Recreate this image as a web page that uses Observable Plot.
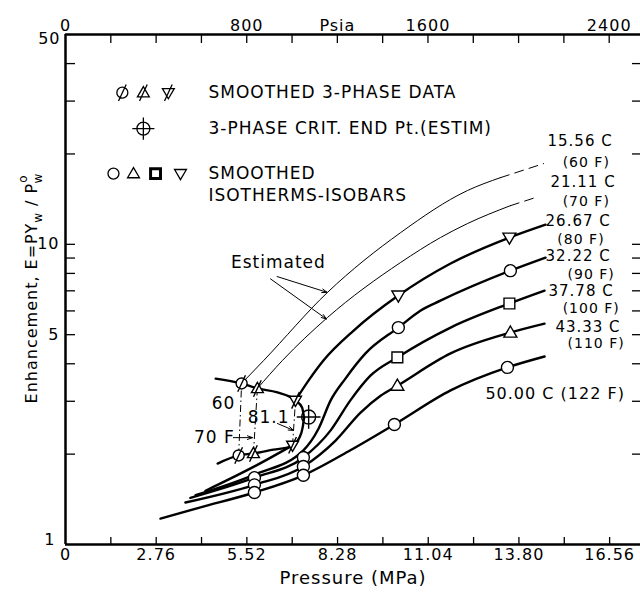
<!DOCTYPE html>
<html><head><meta charset="utf-8">
<script src="https://cdn.jsdelivr.net/npm/d3@7"></script>
<script src="https://cdn.jsdelivr.net/npm/@observablehq/plot@0.6"></script>
<style>body{margin:0;background:#fff;} svg{display:block;}</style>
</head><body><div id="chart"></div>
<script>
// ---------- axis data ----------
const PSI_TO_MPA = 0.00689476;
const xTickValues = [0, 2.76, 5.52, 8.28, 11.04, 13.80, 16.56];
const xTickText = ["0", "2.76", "5.52", "8.28", "11.04", "13.80", "16.56"];
const xMinorTicks = [1.38, 2.76, 4.14, 5.52, 6.90, 8.28, 9.66, 11.04, 12.42, 13.80, 15.18, 16.56];
const psiaTickLabels = [0, 800, 1600, 2400];
const psiaTicks = [200, 400, 600, 800, 1000, 1200, 1400, 1600, 1800, 2000, 2200, 2400];
const yTicks = [2, 3, 4, 5, 6, 7, 8, 9, 10, 20, 30, 40];
const yTickLabelsMid = [5, 10];

// ---------- isotherms [MPa, E] ----------
const iso60 = [[5.36,3.44],[6.03,4.10],[7.97,6.91],[10.20,10.94],[12.23,15.10],[13.24,16.68]];
const iso60Est = [[13.24,16.68],[14.55,18.57]];
const iso70 = [[5.84,3.31],[6.60,4.10],[7.97,5.70],[10.20,8.70],[11.41,10.53],[12.23,11.72],[13.54,13.45]];
const iso70Est = [[13.54,13.45],[14.30,14.31]];
const iso80 = [[7.00,3.02],[7.40,3.52],[7.85,4.10],[8.77,5.16],[10.13,6.75],[11.72,8.63],[13.51,10.53],[14.61,11.63]];
const iso80Gas = [[4.26,1.51],[5.75,1.82],[6.91,2.14]];
const iso90 = [[3.96,1.46],[5.75,1.71],[7.24,2.06],[7.70,2.43],[8.07,3.02],[8.52,3.57],[9.13,4.33],[10.13,5.28],[10.80,6.01],[11.41,6.49],[13.54,8.17],[14.61,9.03]];
const iso100 = [[3.80,1.43],[5.75,1.67],[7.24,1.95],[8.07,2.40],[8.67,3.02],[9.28,3.65],[10.10,4.20],[11.72,5.28],[13.51,6.35],[14.58,7.01]];
const iso110 = [[3.65,1.38],[5.75,1.58],[7.24,1.82],[8.22,2.22],[8.98,2.75],[9.59,3.13],[10.10,3.38],[11.72,4.33],[13.54,5.08],[14.58,5.44]];
const iso122 = [[2.89,1.22],[4.11,1.33],[5.75,1.49],[7.24,1.70],[8.67,2.06],[10.01,2.51],[11.72,3.26],[13.45,3.89],[14.58,4.23]];

// ---------- three-phase loci ----------
const threePhaseUpper = [[4.57,3.57],[5.36,3.44],[5.84,3.31],[6.45,3.21],[7.00,3.02],[7.20,2.86],[7.26,2.64]];
const threePhaseLower = [[4.63,1.86],[5.27,1.98],[5.72,2.01],[6.33,2.07],[6.85,2.12],[7.12,2.27],[7.22,2.46],[7.26,2.64]];

// ---------- markers ----------
const ptsCircle = [[5.75,1.67],[5.75,1.58],[5.75,1.49],[7.24,1.95],[7.24,1.82],[7.24,1.70],[10.13,5.28],[10.01,2.51],[13.54,8.17],[13.45,3.89]];
const ptsTriUp = [[10.10,3.38],[13.54,5.08]];
const ptsSquare = [[10.10,4.20],[13.51,6.35]];
const ptsTriDown = [[10.13,6.75],[13.51,10.53]];
const pts3Circle = [[5.36,3.44],[5.27,1.98]];
const pts3TriUp = [[5.84,3.31],[5.72,2.01]];
const pts3TriDown = [[7.00,3.02],[6.91,2.14]];
const ptsCrit = [[7.40,2.66]];

// ---------- labels ----------
const labelC = ["15.56 C", "21.11 C", "26.67 C", "32.22 C", "37.78 C", "43.33 C"];
const labelF = ["(60 F)", "(70 F)", "(80 F)", "(90 F)", "(100 F)", "(110 F)"];
const label122 = "50.00 C (122 F)";
const legendText = ["SMOOTHED 3-PHASE DATA", "3-PHASE CRIT. END Pt.(ESTIM)", "SMOOTHED", "ISOTHERMS-ISOBARS"];

// ---------- annotation layout (data units) ----------
const labelCPos = [[14.67,22.0],[14.76,16.05],[14.61,11.9],[14.61,9.10],[14.70,6.97],[14.91,5.28]];
const labelFPos = [[15.13,18.75],[15.13,13.9],[14.97,10.38],[15.28,7.93],[15.13,6.12],[15.28,4.68]];
const label122Pos = [12.78,3.18];
const legendTextPos = [[4.35,32.0],[4.35,24.28],[4.35,17.20],[4.35,14.53]];

// ---------- symbols ----------
const mk = fn => ({draw(c, size) { const r = Math.sqrt(size / Math.PI); fn(c, r); }});
const circ = (c, r) => { c.moveTo(r, 0); c.arc(0, 0, r, 0, 2 * Math.PI); };
const triU = (c, r) => { c.moveTo(0, -r * 1.1); c.lineTo(r * 1.08, r * 0.75); c.lineTo(-r * 1.08, r * 0.75); c.closePath(); };
const triD = (c, r) => { c.moveTo(0, r * 1.1); c.lineTo(r * 1.08, -r * 0.75); c.lineTo(-r * 1.08, -r * 0.75); c.closePath(); };
const sq = (c, r) => { const s = r * 0.9; c.rect(-s, -s, 2 * s, 2 * s); };
const slash = (c, r) => { c.moveTo(-r * 0.7, r * 1.5); c.lineTo(r * 0.7, -r * 1.5); };
const symCircle = mk(circ);
const symTriUp = mk(triU);
const symTriDown = mk(triD);
const symSquare = mk(sq);
const symCircleSlash = mk((c, r) => { circ(c, r); slash(c, r); });
const symTriUpSlash = mk((c, r) => { triU(c, r); slash(c, r); });
const symTriDownSlash = mk((c, r) => { triD(c, r); slash(c, r); });
const symCrit = mk((c, r) => { circ(c, r); c.moveTo(-r * 1.7, 0); c.lineTo(r * 1.7, 0); c.moveTo(0, -r * 1.7); c.lineTo(0, r * 1.7); });

// legend symbol positions (data units)
const legRow1 = [{x:1.73,y:32.0,s:symCircleSlash},{x:2.37,y:32.0,s:symTriUpSlash},{x:3.13,y:32.0,s:symTriDownSlash}];
const legRow2 = [{x:2.37,y:24.28,s:symCrit}];
const legRow3 = [{x:1.46,y:17.2,s:symCircle},{x:2.07,y:17.2,s:symTriUp},{x:3.50,y:17.2,s:symTriDown}];
const legSquare = [{x:2.74,y:17.2}];

const tieLines = [[pts3Circle[1], pts3Circle[0]], [pts3TriUp[1], pts3TriUp[0]], [pts3TriDown[1], pts3TriDown[0]]];
const annotArrows = [
  {x1:6.44, y1:7.81, x2:7.96, y2:6.92},
  {x1:6.24, y1:7.67, x2:7.94, y2:5.64},
  {x1:5.11, y1:2.27, x2:5.69, y2:2.27},
  {x1:6.45, y1:2.53, x2:6.94, y2:2.40}
];
const annotText = [
  {x:6.48, y:8.69, t:"Estimated"},
  {x:4.81, y:2.95, t:"60"},
  {x:4.53, y:2.27, t:"70 F"},
  {x:6.18, y:2.65, t:"81.1"}
];

// ---------- chart ----------
const W = 640, H = 593, mt = 34, mb = 49, ml = 65, mr = 0;
const innerW = W - ml - mr, innerH = H - mt - mb;
const THICK = 2.4, THIN = 1;
const px = d => d[0], py = d => d[1];

const line = (data, o = {}) => Plot.line(data, {x: px, y: py, curve: "monotone-x", stroke: "black", strokeWidth: THICK, ...o});
const dots = (data, sym, o = {}) => Plot.dot(data, {x: px, y: py, r: 6, symbol: sym, fill: "white", stroke: "black", strokeWidth: 1.4, ...o});

const chart = Plot.plot({
  width: W, height: H,
  marginTop: mt, marginBottom: mb, marginLeft: ml, marginRight: mr,
  x: {domain: [0, 17.5], axis: null},
  y: {type: "log", domain: [1, 50], axis: null},
  style: {fontFamily: "DejaVu Sans", fontSize: "16px", background: "white", color: "black", letterSpacing: "1px"},
  marks: [
    // ticks (inward)
    Plot.ruleX(xMinorTicks, {x: d => d, insetTop: innerH - 7, strokeWidth: 1.3}),
    Plot.ruleX(psiaTicks, {x: d => d * PSI_TO_MPA, insetBottom: innerH - 9, strokeWidth: 1.3}),
    Plot.ruleY(yTicks, {y: d => d, insetRight: innerW - 10, strokeWidth: 1.3}),
    Plot.ruleY(yTicks, {y: d => d, insetLeft: innerW - 8, strokeWidth: 1.3}),
    // tick labels
    Plot.text(xTickValues, {x: d => d, text: (d, i) => xTickText[i], frameAnchor: "bottom", dy: 15, fontSize: 16}),
    Plot.text(psiaTickLabels, {x: d => d * PSI_TO_MPA, text: d => String(d), frameAnchor: "top", dy: -15, fontSize: 16}),
    Plot.text(["Psia"], {x: () => 1200 * PSI_TO_MPA, text: d => d, frameAnchor: "top", dy: -15, fontSize: 16}),
    Plot.text(["Pressure (MPa)"], {text: d => d, frameAnchor: "bottom", dy: 39, fontSize: 18}),
    Plot.text([50], {y: d => d, text: d => String(d), frameAnchor: "left", dx: -5, dy: 4, textAnchor: "end", fontSize: 16}),
    Plot.text(yTickLabelsMid, {y: d => d, text: d => String(d), frameAnchor: "left", dx: -6, textAnchor: "end", fontSize: 16}),
    Plot.text([1], {y: d => d, text: d => String(d), frameAnchor: "left", dx: -10, dy: -5, textAnchor: "end", fontSize: 16}),

    // isotherm curves
    line(iso60, {strokeWidth: THIN}),
    line(iso60Est, {strokeWidth: THIN, strokeDasharray: "9,6"}),
    line(iso70, {strokeWidth: THIN}),
    line(iso70Est, {strokeWidth: THIN, strokeDasharray: "9,6"}),
    line(iso80),
    line(iso80Gas),
    line(iso90),
    line(iso100),
    line(iso110),
    line(iso122),
    line(threePhaseUpper),
    line(threePhaseLower),
    Plot.link(tieLines, {x1: d => d[0][0], y1: d => d[0][1], x2: d => d[1][0], y2: d => d[1][1], stroke: "black", strokeWidth: 1, strokeDasharray: "7,3,1.5,3"}),

    // annotations
    Plot.arrow(annotArrows, {x1: "x1", y1: "y1", x2: "x2", y2: "y2", stroke: "black", strokeWidth: 1, headLength: 8, headAngle: 40}),
    Plot.text(annotText, {x: "x", y: "y", text: "t", fontSize: 17}),

    // markers
    dots(ptsCircle, symCircle),
    dots(ptsTriUp, symTriUp),
    dots(ptsSquare, symSquare),
    dots(ptsTriDown, symTriDown),
    dots(pts3Circle, symCircleSlash, {r: 5.5}),
    dots(pts3TriUp, symTriUpSlash, {r: 5.5}),
    dots(pts3TriDown, symTriDownSlash, {r: 5.5}),
    dots(ptsCrit, symCrit, {r: 7, fill: "none"}),

    // series labels
    Plot.text(labelC, {x: (d, i) => labelCPos[i][0], y: (d, i) => labelCPos[i][1], text: d => d, textAnchor: "start", fontSize: 15}),
    Plot.text(labelF, {x: (d, i) => labelFPos[i][0], y: (d, i) => labelFPos[i][1], text: d => d, textAnchor: "start", fontSize: 14}),
    Plot.text([label122], {x: () => label122Pos[0], y: () => label122Pos[1], text: d => d, textAnchor: "start", fontSize: 16}),

    // legend
    Plot.text(legendText, {x: (d, i) => legendTextPos[i][0], y: (d, i) => legendTextPos[i][1], text: d => d, textAnchor: "start", fontSize: 17}),
    ...legRow1.map(d => Plot.dot([d], {x: "x", y: "y", r: 5.5, symbol: d.s, fill: "white", stroke: "black", strokeWidth: 1.3})),
    ...legRow2.map(d => Plot.dot([d], {x: "x", y: "y", r: 6.5, symbol: d.s, fill: "none", stroke: "black", strokeWidth: 1.3})),
    ...legRow3.map(d => Plot.dot([d], {x: "x", y: "y", r: 5.5, symbol: d.s, fill: "white", stroke: "black", strokeWidth: 1.3})),
    Plot.dot(legSquare, {x: "x", y: "y", r: 5.5, symbol: symSquare, fill: "white", stroke: "black", strokeWidth: 3}),

    // axes lines (left, bottom, top; right edge lies beyond the picture)
    Plot.ruleX([0], {x: d => d, stroke: "black", strokeWidth: 2.5}),
    Plot.ruleY([1, 50], {y: d => d, stroke: "black", strokeWidth: 2.5})
  ]
});

// y-axis title with sub/superscripts
const svg = d3.select(chart);
const t = svg.append("text")
  .attr("transform", "translate(37,288) rotate(-90)")
  .attr("text-anchor", "middle")
  .attr("font-family", "DejaVu Sans")
  .attr("font-size", 16)
  .attr("fill", "black");
t.append("tspan").text("Enhancement, E=PY");
t.append("tspan").attr("dy", 5).attr("font-size", 12).text("w");
t.append("tspan").attr("dy", -5).text(" / P");
t.append("tspan").attr("dy", -10).attr("font-size", 12).text("o");
t.append("tspan").attr("dx", -9).attr("dy", 15).attr("font-size", 12).text("w");

document.getElementById("chart").appendChild(chart);
</script>
</body></html>
